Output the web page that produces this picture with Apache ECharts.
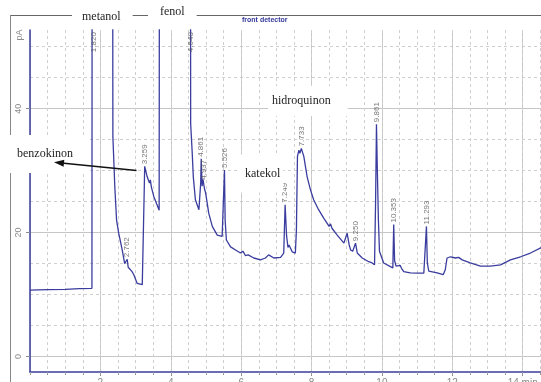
<!DOCTYPE html>
<html><head><meta charset="utf-8">
<script src="https://cdn.jsdelivr.net/npm/echarts@6/dist/echarts.min.js"></script>
<style>html,body{margin:0;padding:0;background:#fff}#c{width:541px;height:382px}</style>
</head><body><div id="c"></div>
<script>
// ---- data ----
const traceTime = [0.00,0.50,1.00,1.40,1.76,1.77,1.82,2.34,2.355,2.41,2.46,2.52,2.62,2.69,2.74,2.762,2.79,2.90,2.95,3.045,3.19,3.235,3.25,3.259,3.33,3.395,3.42,3.45,3.52,3.60,3.67,3.685,4.10,4.555,4.565,4.61,4.64,4.70,4.80,4.83,4.85,4.865,4.89,4.915,4.937,4.96,4.99,5.08,5.18,5.32,5.46,5.50,5.526,5.545,5.58,5.70,5.84,5.98,6.05,6.12,6.20,6.36,6.55,6.69,6.78,6.93,7.12,7.21,7.249,7.29,7.33,7.36,7.45,7.54,7.57,7.60,7.64,7.67,7.71,7.78,7.875,7.97,8.06,8.20,8.35,8.50,8.54,8.58,8.73,8.92,9.01,9.07,9.11,9.17,9.25,9.30,9.44,9.625,9.72,9.79,9.82,9.845,9.87,9.90,9.93,10.05,10.24,10.31,10.335,10.36,10.40,10.45,10.52,10.56,10.62,10.81,11.00,11.19,11.24,11.265,11.29,11.33,11.57,11.74,11.80,11.85,11.95,12.09,12.18,12.28,12.51,12.80,13.08,13.37,13.65,13.94,14.22,14.53];
const traceSignal = [10.7,10.8,10.85,10.95,11.0,120,400,120,35.5,27.4,22.0,19.9,17.2,15.0,14.7,15.7,14.4,13.7,13.2,11.8,11.6,11.7,28.0,30.7,29.0,28.0,28.5,27.3,25.8,24.6,23.6,120,500,120,37.6,32.8,29.0,25.3,23.7,23.6,28.0,31.9,27.5,28.6,28.3,27.0,26.4,23.1,21.0,19.6,19.4,19.6,30.1,22.0,18.8,17.7,17.2,16.7,17.0,16.3,16.4,15.9,15.6,15.9,16.4,15.9,16.0,16.7,24.5,19.5,17.6,18.0,16.9,16.7,20.4,32.3,33.3,32.8,33.6,32.3,29.0,26.9,25.3,23.7,22.3,21.0,21.4,20.7,19.6,18.3,19.9,18.0,17.2,17.0,18.3,16.7,15.9,15.3,15.1,14.8,25.0,37.5,30.0,22.0,17.0,15.1,14.5,14.3,21.3,15.5,14.6,14.3,14.7,14.2,13.7,13.5,13.45,13.45,13.6,21.0,15.1,13.8,13.5,13.2,14.0,15.9,16.1,15.9,16.0,15.6,15.1,14.6,14.6,14.8,15.6,16.1,16.7,17.6];

const peakTimes   = [1.82, 2.762, 3.259, 4.57, 4.861, 4.937, 5.526, 7.249, 7.71, 9.25, 9.845, 10.335, 11.265];
const peakHeights = [48.8, 15.7, 30.7, 48.8, 31.9, 28.2, 30.1, 24.5, 33.6, 18.3, 37.5, 21.3, 21.0];
const peakLabels  = ['1.820','2.762','3.259','4.640','4.861','4.937','5.526','7.249','7.733','9.250','9.861','10.353','11.293'];

const xMajorTicks = [2,4,6,8,10,12,14];
const yMajorTicks = [0,20,40];
const yMinorTicks = [5,10,15,25,30,35,45,50];

const compoundNames = ['metanol','fenol','benzokinon','katekol','hidroquinon'];
const detectorTitle = 'front detector';
const yUnit = 'pA';
const xUnit = 'min';

// ---- chart ----
const BLUE = '#3a3d9e';
const GRID_SOLID = '#c6c6c6';
const GRID_DASH = '#cfcfcf';
const chart = echarts.init(document.getElementById('c'));
const lineData = traceTime.map((t, i) => [t, traceSignal[i]]);
const peakData = peakTimes.map((t, i) => [t, peakHeights[i], peakLabels[i]]);

const serif = '"Liberation Serif", "DejaVu Serif", serif';
function boxText(txt, x, y, pad) {
  return { type: 'text', x: x, y: y, z: 60,
    style: { text: txt, font: '12px ' + serif, fill: '#1e1e1e', align: 'left', verticalAlign: 'middle',
      backgroundColor: '#fff', padding: pad } };
}
// arrow geometry (layout)
const arrowTail = [136.5, 170.5], arrowTip = [54, 162.3];
const ang = Math.atan2(arrowTip[1] - arrowTail[1], arrowTip[0] - arrowTail[0]);
const headL = 10, headW = 3.6;
const bx = arrowTip[0] - headL * Math.cos(ang), by = arrowTip[1] - headL * Math.sin(ang);
const head = [arrowTip,
  [bx + headW * Math.sin(ang), by - headW * Math.cos(ang)],
  [bx - headW * Math.sin(ang), by + headW * Math.cos(ang)]];

chart.setOption({
  animation: false,
  backgroundColor: '#fff',
  grid: { left: 30, right: 0, top: 30, bottom: 10, containLabel: false, outerBoundsMode: 'none' },
  xAxis: [
    { type: 'value', position: 'bottom', min: 0, max: 14.52, interval: 2,
      axisLine: { show: true, onZero: false, lineStyle: { color: BLUE, width: 1.5 } },
      axisTick: { show: true, length: 4, lineStyle: { color: '#8a8a8a' } },
      axisLabel: { margin: 6, fontSize: 10, color: '#8a8a8a', fontFamily: 'Arial, "Liberation Sans", sans-serif',
        showMinLabel: false, showMaxLabel: false,
        formatter: v => (xMajorTicks.indexOf(v) < 0 ? '' : (v === 14 ? '14 ' + xUnit : String(v))) },
      splitLine: { show: true, lineStyle: { color: GRID_SOLID, width: 1 } } },
    { type: 'value', position: 'bottom', min: 0, max: 14.52, interval: 0.5,
      axisLine: { show: false, onZero: false },
      axisTick: { show: true, length: 3, lineStyle: { color: '#9a9a9a' } },
      axisLabel: { show: false },
      splitLine: { show: true, lineStyle: { color: GRID_DASH, type: [3, 3], width: 1 } } }
  ],
  yAxis: [
    { type: 'value', position: 'left', min: -2.5, max: 52.7,
      axisLine: { show: true, onZero: false, lineStyle: { color: BLUE, width: 1.5 } },
      axisTick: { show: true, length: 4, customValues: yMajorTicks, lineStyle: { color: '#8a8a8a' } },
      axisLabel: { customValues: yMajorTicks, rotate: 90, fontSize: 9, color: '#8a8a8a', margin: 7,
        fontFamily: 'Arial, "Liberation Sans", sans-serif' },
      splitLine: { show: true, lineStyle: { color: GRID_SOLID, width: 1 } } },
    { type: 'value', position: 'left', min: -2.5, max: 52.7,
      axisLine: { show: false, onZero: false },
      axisTick: { show: false, customValues: yMinorTicks },
      axisLabel: { show: false, customValues: yMinorTicks },
      splitLine: { show: true, lineStyle: { color: GRID_DASH, type: [3, 3], width: 1 } } }
  ],
  series: [
    { type: 'line', xAxisIndex: 0, yAxisIndex: 0, data: lineData, symbol: 'none', showSymbol: false,
      clip: true, lineStyle: { color: BLUE, width: 1.3 }, z: 3, silent: true },
    { type: 'scatter', xAxisIndex: 0, yAxisIndex: 0, data: peakData, symbolSize: 0, z: 4, silent: true,
      label: { show: true, formatter: p => p.data[2], rotate: 90, position: 'top', distance: 2,
        align: 'left', verticalAlign: 'middle', fontSize: 8, color: '#555',
        fontFamily: 'Arial, "Liberation Sans", sans-serif' } }
  ],
  graphic: [
    { type: 'line', z: 50, shape: { x1: 10, y1: 15.5, x2: 541, y2: 15.5 }, style: { stroke: '#666', lineWidth: 1 } },
    { type: 'line', z: 50, shape: { x1: 10.5, y1: 15, x2: 10.5, y2: 382 }, style: { stroke: '#888', lineWidth: 1 } },
    boxText(compoundNames[0], 72, 17, [3, 12, 3, 10]),
    boxText(compoundNames[1], 148, 12, [3, 12, 3, 12]),
    boxText(compoundNames[2], 8, 154, [12, 15, 14, 9]),
    boxText(compoundNames[3], 240, 173.5, [13, 3, 13, 5]),
    boxText(compoundNames[4], 268, 101, [9, 17, 9, 4]),
    { type: 'text', x: 242, y: 20, z: 60,
      style: { text: detectorTitle, font: 'bold 7px Arial, "Liberation Sans", sans-serif', fill: '#34389a',
        align: 'left', verticalAlign: 'middle' } },
    { type: 'text', x: 20, y: 35, rotation: Math.PI / 2, z: 60,
      style: { text: yUnit, font: '9px Arial, "Liberation Sans", sans-serif', fill: '#8a8a8a',
        align: 'center', verticalAlign: 'middle' } },
    { type: 'line', z: 70, shape: { x1: arrowTail[0], y1: arrowTail[1], x2: bx, y2: by },
      style: { stroke: '#111', lineWidth: 1.6 } },
    { type: 'polygon', z: 70, shape: { points: head }, style: { fill: '#111' } }
  ]
});
</script></body></html>
